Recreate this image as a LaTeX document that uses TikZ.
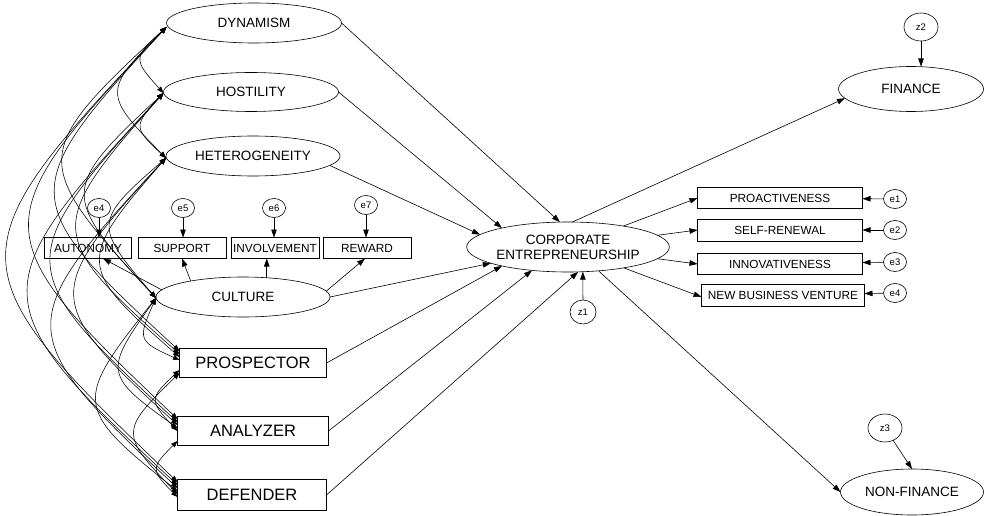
\documentclass[tikz,border=0pt]{standalone}
\usepackage{fontspec}
\setmainfont{Liberation Sans}
\usetikzlibrary{shapes.geometric,arrows.meta}
\begin{document}
\begin{tikzpicture}[x=1pt,y=-1pt,
  every node/.style={inner sep=0pt, outer sep=0pt},
  lat/.style={draw, ellipse, line width=0.6pt},
  obs/.style={draw, rectangle, line width=0.6pt},
  err/.style={draw, ellipse, line width=0.6pt, minimum width=23pt, minimum height=19pt, font=\fontsize{9.5}{10}\selectfont},
  arr/.style={line width=0.6pt, -{Triangle[length=8pt,width=5.5pt]}},
  cov/.style={line width=0.55pt, {Triangle[length=6.5pt,width=5pt]}-{Triangle[length=6.5pt,width=5pt]}, bend right=45, looseness=1.75},
  fbig/.style={font=\fontsize{13.5}{15}\selectfont},
  fbox/.style={font=\fontsize{16.5}{18}\selectfont},
  fsmall/.style={font=\fontsize{11.8}{13}\selectfont},
]
\useasboundingbox (0,0) rectangle (984,516);

% latent exogenous
\node[lat,fbig,minimum width=175pt,minimum height=40pt] (dyn) at (254,23) {DYNAMISM};
\node[lat,fbig,minimum width=175pt,minimum height=39pt] (hos) at (251,92) {HOSTILITY};
\node[lat,fbig,minimum width=174pt,minimum height=40pt] (het) at (253,156) {HETEROGENEITY};
\node[lat,fbig,minimum width=174pt,minimum height=40pt] (cul) at (243,297) {CULTURE};
% observed exogenous
\node[obs,fbox,minimum width=147pt,minimum height=29pt] (pro) at (253,363) {PROSPECTOR};
\node[obs,fbox,minimum width=151pt,minimum height=29pt] (ana) at (253,431) {ANALYZER};
\node[obs,fbox,minimum width=149pt,minimum height=31pt] (def) at (252,495) {DEFENDER};

% culture indicators
\node[obs,fsmall,minimum width=87pt,minimum height=21pt] (aut) at (88,248) {AUTONOMY};
\node[obs,fsmall,minimum width=88pt,minimum height=21pt] (sup) at (182,248) {SUPPORT};
\node[obs,fsmall,minimum width=88pt,minimum height=21pt] (inv) at (275,248) {INVOLVEMENT};
\node[obs,fsmall,minimum width=88pt,minimum height=21pt] (rew) at (367,248) {REWARD};
\node[err] (e4a) at (99,208) {e4};
\node[err] (e5) at (183,208) {e5};
\node[err] (e6) at (274,208) {e6};
\node[err] (e7) at (366,205) {e7};

% corporate entrepreneurship
\node[lat,fbig,minimum width=187pt,minimum height=50pt,align=center] (ce) at (568,247) {CORPORATE\\ENTREPRENEURSHIP};
\node[err,minimum width=26pt,minimum height=24pt] (z1) at (583,312) {z1};

% CE indicators
\node[obs,fsmall,minimum width=165pt,minimum height=21pt] (pa) at (780,198) {PROACTIVENESS};
\node[obs,fsmall,minimum width=165pt,minimum height=22pt] (sr) at (780,230) {SELF-RENEWAL};
\node[obs,fsmall,minimum width=165pt,minimum height=21pt] (inn) at (780,264) {INNOVATIVENESS};
\node[obs,fsmall,minimum width=163pt,minimum height=22pt] (nb) at (783,295) {NEW BUSINESS VENTURE};
\node[err] (e1) at (895,199) {e1};
\node[err] (e2) at (895,230) {e2};
\node[err] (e3) at (895,262) {e3};
\node[err] (e4b) at (895,293) {e4};

% outcomes
\node[lat,fbig,minimum width=145pt,minimum height=45pt] (fin) at (911,89) {FINANCE};
\node[lat,fbig,minimum width=143pt,minimum height=46pt] (non) at (912,492) {NON-FINANCE};
\node[err,minimum width=34pt,minimum height=28pt] (z2) at (921,27) {z2};
\node[err,minimum width=34pt,minimum height=28pt] (z3) at (885,428) {z3};

% regression paths to CE
\draw[arr] (dyn.east) -- (ce.108);
\draw[arr] (hos.east) -- (ce.164);
\draw[arr] (het.-7) -- (ce.172);
\draw[arr] (cul.east) -- (ce);
\draw[arr] (pro.east) -- (ce.196);
\draw[arr] (ana.east) -- (ce.213);
\draw[arr] (def.east) -- (ce.292);
\draw[arr] (z1) -- (ce.-59);

% CE outputs
\draw[arr] (ce) -- (pa.west);
\draw[arr] (ce) -- (sr.west);
\draw[arr] (ce) -- (inn.west);
\draw[arr] (ce) -- ([yshift=-2pt]nb.west);
\draw[arr] (ce.80) -- (fin.188);
\draw[arr] (ce.-38) -- (non.west);
\draw[arr] (z2.south) -- (z2.south |- fin.north);
\draw[arr] (z3) -- (non.north);
\draw[arr] (e1) -- (pa);
\draw[arr] (e2) -- (sr);
\draw[arr] (e3) -- (inn);
\draw[arr] (e4b) -- (nb);

% culture measurement
\draw[arr] (e4a) -- (e4a |- aut.north);
\draw[arr] (e5) -- (e5 |- sup.north);
\draw[arr] (e6) -- (e6 |- inv.north);
\draw[arr] (e7) -- (e7 |- rew.north);
\draw[arr] (cul.175) -- ([xshift=15pt]aut.south);
\draw[arr] (cul.163) -- (sup.south);
\draw[arr] (cul.39) -- (cul.39 |- inv.south);
\draw[arr] (cul.4) -- ([xshift=-2pt]rew.south);

% covariances
\draw[cov] ([yshift=-4pt]dyn.west) to ([yshift=-1pt]hos.west);
\draw[cov] ([yshift=-4pt]dyn.west) to ([yshift=-2pt]het.west);
\draw[cov] ([yshift=-4pt]dyn.west) to ([yshift=-1pt]cul.west);
\draw[cov] ([yshift=-4pt]dyn.west) to ([yshift=12pt]pro.west);
\draw[cov] ([yshift=-4pt]dyn.west) to ([yshift=12pt]ana.west);
\draw[cov] ([yshift=-4pt]dyn.west) to ([yshift=13pt]def.west);
\draw[cov] ([yshift=-1pt]hos.west) to ([yshift=-2pt]het.west);
\draw[cov] ([yshift=-1pt]hos.west) to ([yshift=-1pt]cul.west);
\draw[cov] ([yshift=-1pt]hos.west) to ([yshift=9pt]pro.west);
\draw[cov] ([yshift=-1pt]hos.west) to ([yshift=9pt]ana.west);
\draw[cov] ([yshift=-1pt]hos.west) to ([yshift=10pt]def.west);
\draw[cov] ([yshift=-2pt]het.west) to ([yshift=-1pt]cul.west);
\draw[cov] ([yshift=-2pt]het.west) to ([yshift=6pt]pro.west);
\draw[cov] ([yshift=-2pt]het.west) to ([yshift=6pt]ana.west);
\draw[cov] ([yshift=-2pt]het.west) to ([yshift=7pt]def.west);
\draw[cov] ([yshift=-1pt]cul.west) to ([yshift=3pt]pro.west);
\draw[cov] ([yshift=-1pt]cul.west) to ([yshift=3pt]ana.west);
\draw[cov] ([yshift=-1pt]cul.west) to ([yshift=4pt]def.west);
\draw[cov] ([yshift=-7pt]pro.west) to ([yshift=0pt]ana.west);
\draw[cov] ([yshift=-10pt]pro.west) to ([yshift=1pt]def.west);
\draw[cov] ([yshift=-10pt]ana.west) to ([yshift=-2pt]def.west);
\end{tikzpicture}
\end{document}
